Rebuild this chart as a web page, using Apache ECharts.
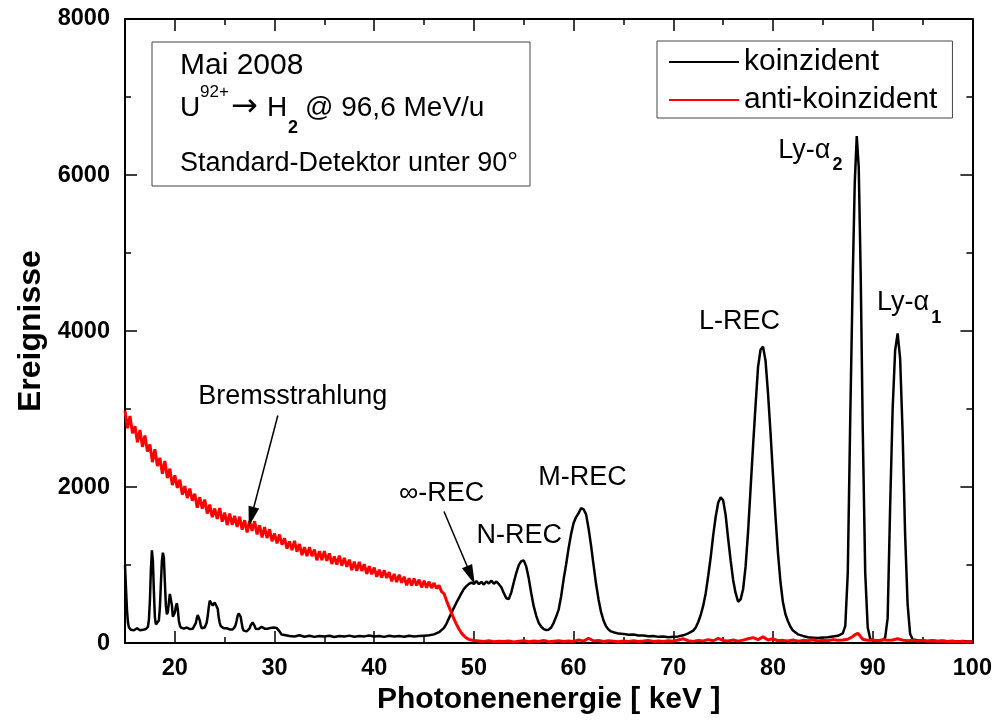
<!DOCTYPE html>
<html>
<head>
<meta charset="utf-8">
<script src="https://cdn.jsdelivr.net/npm/echarts@6.0.0/dist/echarts.min.js"></script>
<style>html,body{margin:0;padding:0;background:#fff;}#chart{width:995px;height:720px;}</style>
</head>
<body>
<div id="chart"></div>
<script>
// ---- data: [photon energy keV, events] ----
const koinzident = [
[15.0,1000],[15.1,700],[15.2,420],[15.3,260],[15.4,200],[15.5,185],[15.6,170],[15.7,190],[15.8,175],[15.9,165],
[16.0,185],[16.1,175],[16.2,190],[16.3,170],[16.4,180],[16.5,165],[16.6,185],[16.7,175],[16.8,170],[16.9,190],
[17.0,175],[17.1,180],[17.2,185],[17.3,210],[17.4,300],[17.5,550],[17.6,950],[17.7,1190],[17.8,1050],[17.9,650],
[18.0,330],[18.1,240],[18.2,235],[18.3,240],[18.4,290],[18.5,460],[18.6,760],[18.7,1050],[18.8,1160],[18.9,1090],
[19.0,780],[19.1,480],[19.2,370],[19.3,400],[19.4,520],[19.5,630],[19.6,640],[19.7,490],[19.8,340],[19.9,320],
[20.0,390],[20.1,470],[20.2,510],[20.3,430],[20.4,290],[20.5,230],[20.6,200],[20.7,190],[20.8,205],[20.9,185],
[21.0,195],[21.1,180],[21.2,200],[21.3,185],[21.4,195],[21.5,180],[21.6,200],[21.7,190],[21.8,185],[21.9,195],
[22.0,210],[22.1,255],[22.2,320],[22.3,360],[22.4,350],[22.5,290],[22.6,225],[22.7,190],[22.8,185],[22.9,195],
[23.0,200],[23.1,220],[23.2,265],[23.3,350],[23.4,460],[23.5,545],[23.6,560],[23.7,550],[23.8,480],[23.9,470],
[24.0,520],[24.1,545],[24.2,530],[24.3,440],[24.4,330],[24.5,260],[24.6,220],[24.7,210],[24.8,205],[24.9,190],
[25.0,195],[25.1,185],[25.2,190],[25.3,180],[25.4,185],[25.5,175],[25.6,170],[25.7,180],[25.8,175],[25.9,185],
[26.0,205],[26.1,235],[26.2,290],[26.3,350],[26.4,380],[26.5,385],[26.6,340],[26.7,260],[26.8,190],[26.9,160],
[27.0,150],[27.1,155],[27.2,150],[27.3,160],[27.4,170],[27.5,190],[27.6,225],[27.7,250],[27.8,265],[27.9,260],
[28.0,220],[28.1,185],[28.2,165],[28.3,170],[28.4,180],[28.5,190],[28.6,200],[28.7,210],[28.8,215],[28.9,200],
[29.0,185],[29.1,175],[29.2,190],[29.3,185],[29.4,200],[29.5,190],[29.6,195],[29.7,185],[29.8,190],[29.9,200],
[30.0,195],[30.1,185],[30.2,195],[30.3,190],[30.4,180],[30.5,150],[30.6,125],[30.7,110],[30.8,100],[30.9,95],
[31.0,105],[31.5,90],[32.0,85],[32.5,100],[33.0,82],[33.5,95],[34.0,80],[34.5,92],[35.0,85],[35.5,95],
[36.0,78],[36.5,90],[37.0,84],[37.5,96],[38.0,82],[38.5,90],[39.0,86],[39.5,98],[40.0,84],[40.5,92],
[41.0,80],[41.5,94],[42.0,86],[42.5,90],[43.0,82],[43.5,95],[44.0,85],[44.5,90],[45.0,95],[45.5,100],
[46.0,112],[46.5,140],[47.0,195],[47.25,250],[47.5,320],[47.75,390],[48.0,455],[48.25,520],[48.5,580],[48.75,640],
[49.0,695],[49.25,730],[49.5,760],[49.75,775],[50.0,760],[50.25,795],[50.5,755],[50.75,785],[51.0,750],[51.25,790],
[51.5,765],[51.75,800],[52.0,760],[52.25,790],[52.5,755],[52.75,715],[53.0,640],[53.25,575],[53.5,565],[53.75,650],
[54.0,780],[54.25,900],[54.5,1000],[54.75,1050],[55.0,1060],[55.25,980],[55.5,830],[55.75,640],[56.0,470],[56.25,350],
[56.5,260],[56.75,210],[57.0,180],[57.25,168],[57.5,172],[57.75,200],[58.0,260],[58.25,340],[58.5,430],[58.75,600],
[59.0,820],[59.25,1010],[59.5,1220],[59.75,1400],[60.0,1540],[60.25,1615],[60.5,1665],[60.75,1730],[61.0,1715],[61.25,1650],
[61.5,1470],[61.75,1250],[62.0,1000],[62.25,760],[62.5,560],[62.75,400],[63.0,290],[63.25,215],[63.5,175],[63.75,150],
[64.0,140],[64.5,122],[65.0,118],[65.5,106],[66.0,110],[66.5,98],[67.0,96],[67.5,88],[68.0,92],[68.5,80],
[69.0,84],[69.5,74],[70.0,80],[70.5,86],[71.0,100],[71.5,125],[72.0,160],[72.25,200],[72.5,270],[72.75,360],
[73.0,480],[73.25,640],[73.5,860],[73.75,1100],[74.0,1380],[74.25,1620],[74.5,1800],[74.75,1870],[75.0,1830],[75.25,1640],
[75.5,1340],[75.75,1060],[76.0,810],[76.25,640],[76.5,530],[76.75,560],[77.0,690],[77.25,980],[77.5,1430],[77.75,1980],
[78.0,2530],[78.25,3050],[78.5,3540],[78.75,3760],[79.0,3800],[79.25,3620],[79.5,3200],[79.75,2700],[80.0,2150],[80.25,1620],
[80.5,1150],[80.75,780],[81.0,520],[81.25,370],[81.5,280],[81.75,210],[82.0,160],[82.5,112],[83.0,92],[83.5,76],
[84.0,70],[84.5,64],[85.0,72],[85.5,76],[86.0,86],[86.5,94],[87.0,125],[87.25,220],[87.5,900],[87.75,2900],
[88.0,4700],[88.2,5900],[88.4,6500],[88.6,6100],[88.8,4700],[89.0,2750],[89.25,900],[89.5,200],[89.75,55],[90.0,38],
[90.5,32],[91.0,35],[91.25,70],[91.5,320],[91.75,1750],[92.0,3000],[92.25,3750],[92.5,3970],[92.75,3650],[93.0,2700],
[93.25,1400],[93.5,500],[93.75,120],[94.0,48],[94.5,36],[95.0,32],[95.5,28],[96.0,34],[96.5,26],[97.0,30],
[97.5,24],[98.0,28],[98.5,22],[99.0,26],[99.5,20],[100.0,24]
];

const antiKoinzident = [
[15.0,2980],[15.25,2755],[15.5,2910],[15.75,2690],[16.0,2780],[16.25,2575],[16.5,2731],[16.75,2515],[17.0,2660],[17.25,2455],
[17.5,2545],[17.75,2320],[18.0,2485],[18.25,2270],[18.5,2375],[18.75,2170],[19.0,2335],[19.25,2115],[19.5,2236],[19.75,2025],
[20.0,2150],[20.25,1990],[20.5,2095],[20.75,1905],[21.0,2013],[21.25,1860],[21.5,1980],[21.75,1825],[22.0,1915],[22.25,1735],
[22.5,1870],[22.75,1723],[23.0,1840],[23.25,1660],[23.5,1775],[23.75,1615],[24.0,1725],[24.25,1593],[24.5,1730],[24.75,1556],
[25.0,1672],[25.25,1513],[25.5,1660],[25.75,1517],[26.0,1630],[26.25,1490],[26.5,1620],[26.75,1455],[27.0,1575],[27.25,1420],
[27.5,1565],[27.75,1439],[28.0,1563],[28.25,1394],[28.5,1510],[28.75,1354],[29.0,1488],[29.25,1347],[29.5,1460],[29.75,1305],
[30.0,1405],[30.25,1278],[30.5,1392],[30.75,1261],[31.0,1345],[31.25,1211],[31.5,1302],[31.75,1193],[32.0,1310],[32.25,1172],
[32.5,1270],[32.75,1127],[33.0,1230],[33.25,1115],[33.5,1230],[33.75,1115],[34.0,1200],[34.25,1062],[34.5,1179],[34.75,1065],
[35.0,1180],[35.25,1055],[35.5,1150],[35.75,1015],[36.0,1110],[36.25,1006],[36.5,1122],[36.75,992],[37.0,1093],[37.25,979],
[37.5,1070],[37.75,935],[38.0,1045],[38.25,925],[38.5,1040],[38.75,926],[39.0,1011],[39.25,886],[39.5,987],[39.75,883],
[40.0,968],[40.25,849],[40.5,940],[40.75,840],[41.0,935],[41.25,835],[41.5,910],[41.75,791],[42.0,887],[42.25,782],
[42.5,878],[42.75,774],[43.0,850],[43.25,742],[43.5,830],[43.75,739],[44.0,828],[44.25,738],[44.5,813],[44.75,714],
[45.0,800],[45.25,711],[45.5,787],[45.75,706],[46.0,770],[46.25,700],[46.5,740],[46.75,660],[47.0,635],[47.25,545],
[47.5,465],[47.75,385],[48.0,310],[48.25,240],[48.5,180],[48.75,130],[49.0,92],[49.25,65],[49.5,48],[49.75,40],
[50.0,32],[50.5,28],[51.0,22],[51.5,30],[52.0,18],[52.5,25],[53.0,20],[53.5,28],[54.0,15],[54.5,24],
[55.0,30],[55.5,18],[56.0,26],[56.5,20],[57.0,35],[57.5,18],[58.0,25],[58.5,30],[59.0,20],[59.5,28],
[60.0,22],[60.5,40],[61.0,25],[61.5,62],[62.0,28],[62.5,35],[63.0,20],[63.5,30],[64.0,24],[64.5,18],
[65.0,28],[65.5,22],[66.0,30],[66.5,20],[67.0,26],[67.5,35],[68.0,22],[68.5,28],[69.0,20],[69.5,30],
[70.0,25],[70.5,40],[71.0,55],[71.5,30],[72.0,22],[72.5,35],[73.0,28],[73.5,45],[74.0,30],[74.5,60],
[75.0,35],[75.5,28],[76.0,40],[76.5,25],[77.0,38],[77.5,55],[78.0,70],[78.5,45],[79.0,80],[79.5,40],
[80.0,55],[80.5,30],[81.0,35],[81.5,28],[82.0,40],[82.5,25],[83.0,35],[83.5,30],[84.0,42],[84.5,28],
[85.0,36],[85.5,30],[86.0,45],[86.5,35],[87.0,40],[87.5,50],[88.0,85],[88.25,110],[88.5,125],[88.75,90],
[89.0,50],[89.5,35],[90.0,40],[90.5,30],[91.0,45],[91.5,35],[92.0,40],[92.5,55],[93.0,38],[93.5,30],
[94.0,35],[94.5,28],[95.0,32],[95.5,25],[96.0,30],[96.5,22],[97.0,28],[97.5,20],[98.0,25],[98.5,18],
[99.0,22],[99.5,15],[100.0,20]
];

const seriesNames = ['koinzident', 'anti-koinzident'];
const xMajorTicks = [20, 30, 40, 50, 60, 70, 80, 90, 100];
const xMinorTicks = [15, 25, 35, 45, 55, 65, 75, 85, 95];

// annotations (text anchored in data space: [keV, events])
const peakLabels = [
  {text: 'Bremsstrahlung', at: [31.83, 3163]},
  {text: '∞-REC', at: [46.75, 1911]},
  {text: 'N-REC', at: [54.55, 1374]},
  {text: 'M-REC', at: [60.9, 2128]},
  {text: 'L-REC', at: [76.65, 4128]},
  {text: '{a|Ly-α}{s|2}', at: [83.75, 6320]},
  {text: '{a|Ly-α}{s|1}', at: [93.65, 4360]}
];
const arrows = [
  {from: [30.33, 2918], to: [27.67, 1619]},
  {from: [47.0, 1687], to: [49.7, 869]}
];

// ---- chart ----
const FONT = '"Liberation Sans", Arial, Helvetica, sans-serif';
const chart = echarts.init(document.getElementById('chart'), null, {renderer: 'canvas', width: 995, height: 720});

const lineStyleAxis = {color: '#000', width: 2};
const tickStyle = {color: '#000', width: 1.5};

function xAxisDef(position, ticks, len, withLabels, showLine) {
  const a = {
    type: 'value', min: 15, max: 100, position: position,
    axisLine: {show: showLine, onZero: false, lineStyle: lineStyleAxis},
    axisTick: {show: true, inside: true, length: len, lineStyle: tickStyle, customValues: ticks},
    axisLabel: withLabels ? {show: true, customValues: ticks, color: '#000', fontFamily: FONT, fontSize: 23.5, fontWeight: 'bold', margin: 13} : {show: false},
    splitLine: {show: false}
  };
  if (withLabels) {
    a.name = 'Photonenenergie [ keV ]';
    a.nameLocation = 'middle';
    a.nameGap = 37;
    a.nameTextStyle = {color: '#000', fontFamily: FONT, fontSize: 30, fontWeight: 'bold'};
  }
  return a;
}
function yAxisDef(position, withLabels) {
  const a = {
    type: 'value', min: 0, max: 8000, interval: 2000, position: position,
    axisLine: {show: true, onZero: false, lineStyle: lineStyleAxis},
    axisTick: {show: true, inside: true, length: 12, lineStyle: tickStyle},
    minorTick: {show: true, splitNumber: 2, length: 6, lineStyle: tickStyle},
    axisLabel: withLabels ? {show: true, formatter: v => String(v), color: '#000', fontFamily: FONT, fontSize: 23.5, fontWeight: 'bold', margin: 15} : {show: false},
    splitLine: {show: false}, minorSplitLine: {show: false}
  };
  if (withLabels) {
    a.name = 'Ereignisse';
    a.nameLocation = 'middle';
    a.nameGap = 76;
    a.nameTextStyle = {color: '#000', fontFamily: FONT, fontSize: 32, fontWeight: 'bold'};
  }
  return a;
}

const option = {
  animation: false,
  backgroundColor: '#fff',
  grid: {left: 125, right: 20, top: 19, bottom: 75, containLabel: false},
  legend: {
    data: seriesNames,
    orient: 'vertical', left: 657, top: 41,
    padding: [6, 15, 3, 12], itemGap: 8, itemWidth: 70, itemHeight: 2,
    icon: 'rect',
    borderColor: '#444', borderWidth: 1, backgroundColor: '#fff',
    textStyle: {color: '#000', fontFamily: FONT, fontSize: 30, lineHeight: 30},
    selectedMode: false
  },
  xAxis: [
    xAxisDef('bottom', xMajorTicks, 12, true, true),
    xAxisDef('bottom', xMinorTicks, 6, false, false),
    xAxisDef('top', xMajorTicks, 12, false, true),
    xAxisDef('top', xMinorTicks, 6, false, false)
  ],
  yAxis: [yAxisDef('left', true), yAxisDef('right', false)],
  series: [
    {
      name: seriesNames[0], type: 'line', data: koinzident,
      symbol: 'none', showSymbol: false, z: 2,
      lineStyle: {color: '#000', width: 2.5}, itemStyle: {color: '#000'},
      emphasis: {disabled: true},
      markLine: {
        silent: true, symbol: ['none', 'triangle'], symbolSize: [11, 20],
        label: {show: false}, emphasis: {disabled: true},
        lineStyle: {color: '#000', width: 1.5, type: 'solid'},
        data: arrows.map(a => [{coord: a.from}, {coord: a.to}])
      },
      markPoint: {
        silent: true, symbol: 'circle', symbolSize: 1,
        itemStyle: {color: 'rgba(0,0,0,0)'},
        emphasis: {disabled: true},
        label: {
          show: true, position: 'inside', color: '#000', fontFamily: FONT, fontSize: 27,
          rich: {
            a: {color: '#000', fontFamily: FONT, fontSize: 27},
            s: {color: '#000', fontFamily: FONT, fontSize: 18, fontWeight: 'bold', padding: [30, 0, 0, 2]}
          }
        },
        data: peakLabels.map(p => ({coord: p.at, label: {formatter: p.text}}))
      }
    },
    {
      name: seriesNames[1], type: 'line', data: antiKoinzident,
      symbol: 'none', showSymbol: false, z: 3,
      lineStyle: {color: '#ff0000', width: 3}, itemStyle: {color: '#ff0000'},
      emphasis: {disabled: true}
    }
  ],
  graphic: [
    {type: 'rect', x: 152, y: 42, shape: {x: 0, y: 0, width: 378, height: 144},
     style: {fill: '#fff', stroke: '#444', lineWidth: 1}, z: 10},
    {type: 'text', x: 180, y: 65.5, z: 11, style: {text: 'Mai 2008', font: '30px ' + FONT, fill: '#000', verticalAlign: 'middle', textVerticalAlign: 'middle'}},
    {type: 'text', x: 180, y: 108, z: 11, style: {text: 'U', font: '28px ' + FONT, fill: '#000', verticalAlign: 'middle', textVerticalAlign: 'middle'}},
    {type: 'text', x: 200, y: 92.5, z: 11, style: {text: '92+', font: '17px ' + FONT, fill: '#000', verticalAlign: 'middle', textVerticalAlign: 'middle'}},
    {type: 'text', x: 231, y: 108, z: 11, style: {text: '→', font: '32px "DejaVu Sans", sans-serif', fill: '#000', verticalAlign: 'middle', textVerticalAlign: 'middle'}},
    {type: 'text', x: 267, y: 108, z: 11, style: {text: 'H', font: '28px ' + FONT, fill: '#000', verticalAlign: 'middle', textVerticalAlign: 'middle'}},
    {type: 'text', x: 288, y: 128, z: 11, style: {text: '2', font: 'bold 18px ' + FONT, fill: '#000', verticalAlign: 'middle', textVerticalAlign: 'middle'}},
    {type: 'text', x: 305, y: 108, z: 11, style: {text: '@ 96,6 MeV/u', font: '28px ' + FONT, fill: '#000', verticalAlign: 'middle', textVerticalAlign: 'middle'}},
    {type: 'text', x: 180, y: 164, z: 11, style: {text: 'Standard-Detektor unter 90°', font: '27px ' + FONT, fill: '#000', verticalAlign: 'middle', textVerticalAlign: 'middle'}}
  ]
};
chart.setOption(option);
</script>
</body>
</html>
